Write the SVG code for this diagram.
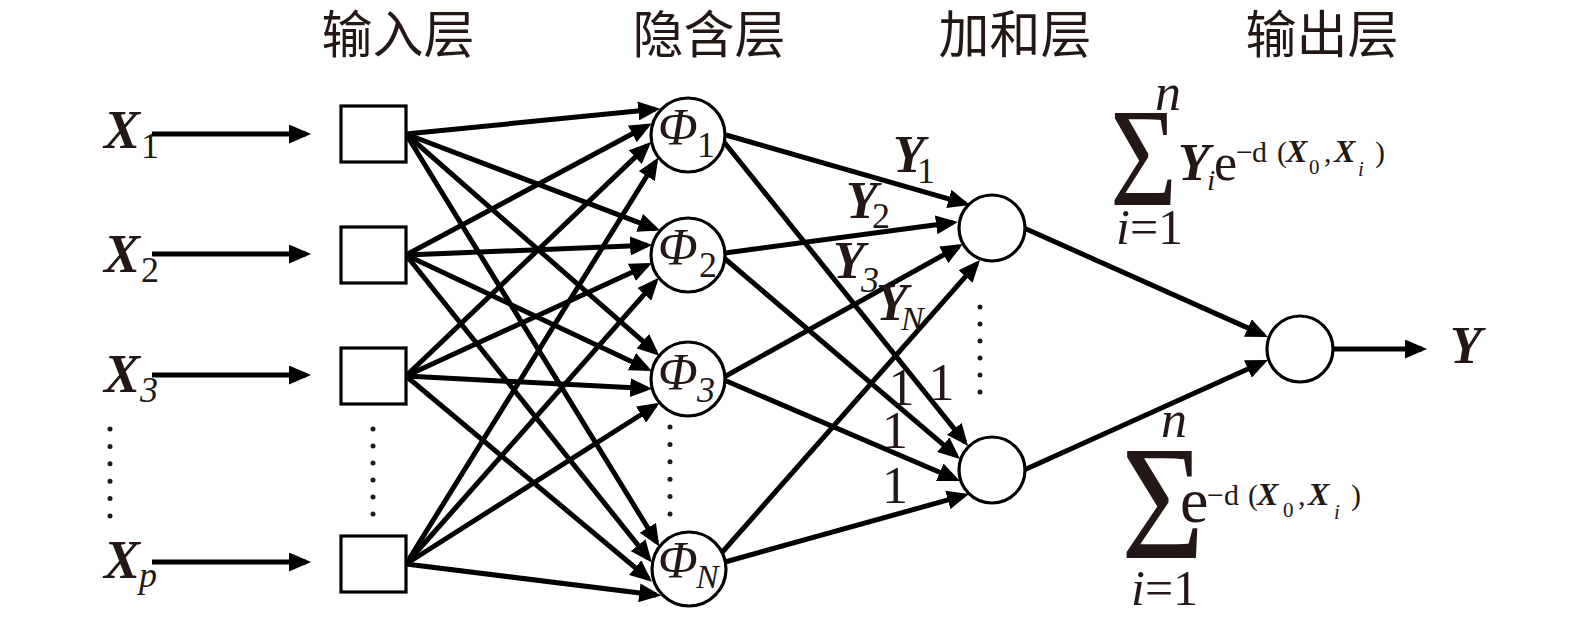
<svg xmlns="http://www.w3.org/2000/svg" width="1575" height="628" viewBox="0 0 1575 628">
<style>
.ln{stroke:#000;stroke-width:5;fill:none;marker-end:url(#ah)}
.nd{fill:#fff;stroke:#000;stroke-width:3.2}
.t{font-family:"Liberation Serif","Times New Roman","DejaVu Serif",serif;fill:#231815}
.bi{font-weight:bold;font-style:italic}
.it{font-style:italic}
.hd{font-family:"Noto Sans CJK SC","Noto Sans CJK JP",sans-serif;font-size:51px;fill:#231815;text-anchor:middle}
.dot{fill:#231815}
.one{text-anchor:middle}
</style>
<defs>
<marker id="ah" markerUnits="userSpaceOnUse" markerWidth="22" markerHeight="19" refX="17" refY="9.5" orient="auto"><path d="M0,0 L22,9.5 L0,19 z" fill="#000"/></marker>
</defs>
<rect width="1575" height="628" fill="#fff"/>
<g id="headers">
<text class="hd" x="398" y="53">输入层</text>
<text class="hd" x="709" y="53">隐含层</text>
<text class="hd" x="1015" y="53">加和层</text>
<text class="hd" x="1322" y="53">输出层</text>
</g>
<g id="connectors">
<line class="ln" x1="152" y1="134" x2="306" y2="134"/>
<line class="ln" x1="152" y1="254" x2="306" y2="254"/>
<line class="ln" x1="152" y1="375" x2="306" y2="375"/>
<line class="ln" x1="152" y1="562" x2="306" y2="562"/>
<line class="ln" x1="406" y1="134" x2="655.2" y2="109.2"/>
<line class="ln" x1="406" y1="134" x2="655.5" y2="228.8"/>
<line class="ln" x1="406" y1="134" x2="655.7" y2="352.4"/>
<line class="ln" x1="406" y1="134" x2="656.7" y2="542.3"/>
<line class="ln" x1="406" y1="255" x2="647.3" y2="125.8"/>
<line class="ln" x1="406" y1="255" x2="647.2" y2="245.3"/>
<line class="ln" x1="406" y1="255" x2="647.3" y2="368.9"/>
<line class="ln" x1="406" y1="255" x2="648.7" y2="558.5"/>
<line class="ln" x1="406" y1="376" x2="647.5" y2="145.4"/>
<line class="ln" x1="406" y1="376" x2="647.3" y2="265.2"/>
<line class="ln" x1="406" y1="376" x2="647.2" y2="388.6"/>
<line class="ln" x1="406" y1="376" x2="648.2" y2="578.5"/>
<line class="ln" x1="406" y1="564" x2="655.7" y2="161.7"/>
<line class="ln" x1="406" y1="564" x2="655.5" y2="281.6"/>
<line class="ln" x1="406" y1="564" x2="655.4" y2="405.5"/>
<line class="ln" x1="406" y1="564" x2="656.2" y2="595"/>
<line class="ln" x1="726" y1="135" x2="965.2" y2="203.6"/>
<line class="ln" x1="725" y1="253" x2="953" y2="222.6"/>
<line class="ln" x1="724" y1="377" x2="958.6" y2="246.5"/>
<line class="ln" x1="718" y1="557" x2="976.7" y2="263.8"/>
<line class="ln" x1="724" y1="142" x2="964.9" y2="442.1"/>
<line class="ln" x1="724" y1="258" x2="956.2" y2="455.7"/>
<line class="ln" x1="724" y1="380" x2="955.4" y2="479"/>
<line class="ln" x1="725" y1="562" x2="964.2" y2="495.4"/>
<line class="ln" x1="1024" y1="228" x2="1263.4" y2="334.9"/>
<line class="ln" x1="1024" y1="470" x2="1263.4" y2="362"/>
<line class="ln" x1="1333" y1="349" x2="1422" y2="349"/>
</g>
<g id="edge-labels">
<text class="t bi" x="893" y="172" font-size="52">Y</text><text class="t" x="917" y="183" font-size="36">1</text>
<text class="t bi" x="846" y="218" font-size="52">Y</text><text class="t" x="872" y="228" font-size="36">2</text>
<text class="t bi" x="833" y="278" font-size="52">Y</text><text class="t it" x="861" y="292" font-size="36">3</text>
<text class="t bi" x="876" y="320" font-size="52">Y</text><text class="t it" x="901" y="330" font-size="34">N</text>
<text class="t one" x="901.5" y="405" font-size="52">1</text>
<text class="t one" x="941.5" y="400" font-size="52">1</text>
<text class="t one" x="895" y="448" font-size="52">1</text>
<text class="t one" x="895" y="503" font-size="52">1</text>
</g>
<g id="input-labels">
<text class="t bi" x="104" y="148" font-size="54">X</text><text class="t" x="141" y="158" font-size="36">1</text>
<text class="t bi" x="104" y="272" font-size="54">X</text><text class="t" x="141" y="282" font-size="36">2</text>
<text class="t bi" x="104" y="392" font-size="54">X</text><text class="t it" x="140" y="402" font-size="36">3</text>
<text class="t bi" x="104" y="578" font-size="54">X</text><text class="t it" x="139" y="587" font-size="36">p</text>
</g>
<g id="dots">
<circle class="dot" cx="110" cy="429" r="2.5"/><circle class="dot" cx="110" cy="446.4" r="2.5"/><circle class="dot" cx="110" cy="463.8" r="2.5"/><circle class="dot" cx="110" cy="481.2" r="2.5"/><circle class="dot" cx="110" cy="498.6" r="2.5"/><circle class="dot" cx="110" cy="516" r="2.5"/>
<circle class="dot" cx="373" cy="429" r="2.5"/><circle class="dot" cx="373" cy="446" r="2.5"/><circle class="dot" cx="373" cy="463" r="2.5"/><circle class="dot" cx="373" cy="480" r="2.5"/><circle class="dot" cx="373" cy="497" r="2.5"/><circle class="dot" cx="373" cy="514" r="2.5"/>
<circle class="dot" cx="670" cy="427" r="2.5"/><circle class="dot" cx="670" cy="444.4" r="2.5"/><circle class="dot" cx="670" cy="461.8" r="2.5"/><circle class="dot" cx="670" cy="479.2" r="2.5"/><circle class="dot" cx="670" cy="496.6" r="2.5"/><circle class="dot" cx="670" cy="514" r="2.5"/>
<circle class="dot" cx="980" cy="307" r="2.5"/><circle class="dot" cx="980" cy="324" r="2.5"/><circle class="dot" cx="980" cy="341" r="2.5"/><circle class="dot" cx="980" cy="358" r="2.5"/><circle class="dot" cx="980" cy="375" r="2.5"/><circle class="dot" cx="980" cy="392" r="2.5"/>
</g>
<g id="input1"><rect class="nd" x="341" y="106" width="65" height="56"/></g>
<g id="input2"><rect class="nd" x="341" y="227" width="65" height="56"/></g>
<g id="input3"><rect class="nd" x="341" y="348" width="65" height="56"/></g>
<g id="inputp"><rect class="nd" x="341" y="536" width="65" height="56"/></g>
<g id="hidden1"><circle class="nd" cx="688" cy="135" r="37"/><text class="t it" x="658" y="145" font-size="52">Φ</text><text class="t" x="697" y="157" font-size="36">1</text></g>
<g id="hidden2"><circle class="nd" cx="688" cy="255" r="37"/><text class="t it" x="658" y="265" font-size="52">Φ</text><text class="t" x="699" y="277" font-size="36">2</text></g>
<g id="hidden3"><circle class="nd" cx="688" cy="379" r="37"/><text class="t it" x="658" y="390" font-size="52">Φ</text><text class="t it" x="697" y="402" font-size="36">3</text></g>
<g id="hiddenN"><circle class="nd" cx="689" cy="569" r="37"/><text class="t it" x="658" y="578" font-size="52">Φ</text><text class="t it" x="696" y="588" font-size="34">N</text></g>
<g id="sum-top"><circle class="nd" cx="992" cy="228" r="33"/></g>
<g id="sum-bottom"><circle class="nd" cx="992" cy="470" r="33"/></g>
<g id="output"><circle class="nd" cx="1300" cy="349" r="33"/><text class="t bi" x="1450" y="363" font-size="52">Y</text></g>
<g id="formula-top">
<text class="t it" x="1155" y="110" font-size="52">n</text>
<text class="t" transform="translate(1110,205) scale(0.83,1)" font-size="139">Σ</text>
<text class="t" x="1116" y="244" font-size="50"><tspan class="it">i</tspan>=1</text>
<text class="t bi" x="1178" y="180" font-size="52">Y</text>
<text class="t it" x="1207" y="190" font-size="30">i</text>
<text class="t" x="1214" y="180" font-size="52">e</text>
<text class="t" y="162" font-size="30"><tspan x="1236">−</tspan><tspan x="1252">d</tspan><tspan x="1277">(</tspan><tspan class="bi" x="1286" font-size="32">X</tspan><tspan x="1309" y="174" font-size="21">0</tspan><tspan x="1324" y="162">,</tspan><tspan class="bi" x="1334" font-size="32">X</tspan><tspan class="it" x="1358" y="176" font-size="21">i</tspan><tspan x="1375" y="162">)</tspan></text>
</g>
<g id="formula-bottom">
<text class="t it" x="1161" y="437" font-size="52">n</text>
<text class="t" transform="translate(1121,558) scale(0.88,1)" font-size="163">Σ</text>
<text class="t" x="1131" y="605" font-size="50"><tspan class="it">i</tspan>=1</text>
<text class="t" x="1180" y="522" font-size="64">e</text>
<text class="t" y="505" font-size="30"><tspan x="1207">−</tspan><tspan x="1224">d</tspan><tspan x="1248">(</tspan><tspan class="bi" x="1257" font-size="32">X</tspan><tspan x="1283" y="517" font-size="21">0</tspan><tspan x="1298" y="505">,</tspan><tspan class="bi" x="1308" font-size="32">X</tspan><tspan class="it" x="1334" y="519" font-size="21">i</tspan><tspan x="1351" y="505">)</tspan></text>
</g>
</svg>
